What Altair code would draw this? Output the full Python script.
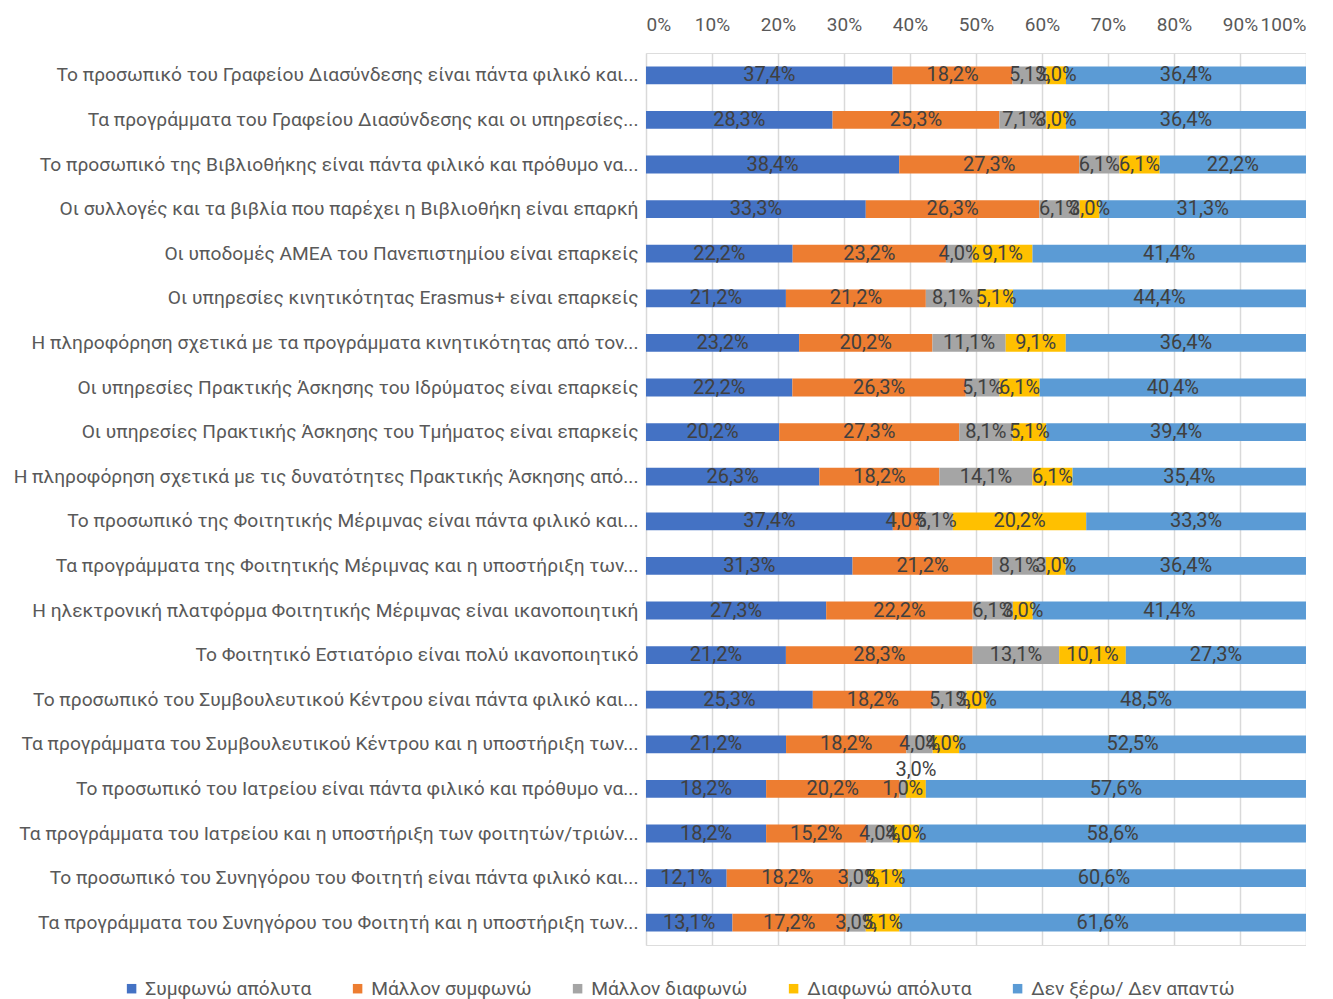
import altair as alt
import pandas as pd

categories = [
    "Το προσωπικό του Γραφείου Διασύνδεσης είναι πάντα φιλικό και...",
    "Τα προγράμματα του Γραφείου Διασύνδεσης και οι υπηρεσίες...",
    "Το προσωπικό της Βιβλιοθήκης είναι πάντα φιλικό και πρόθυμο να...",
    "Οι συλλογές και τα βιβλία που παρέχει η Βιβλιοθήκη είναι επαρκή",
    "Οι υποδομές ΑΜΕΑ του Πανεπιστημίου είναι επαρκείς",
    "Οι υπηρεσίες κινητικότητας Erasmus+ είναι επαρκείς",
    "Η πληροφόρηση σχετικά με τα προγράμματα κινητικότητας από τον...",
    "Οι υπηρεσίες Πρακτικής Άσκησης του Ιδρύματος είναι επαρκείς",
    "Οι υπηρεσίες Πρακτικής Άσκησης του Τμήματος  είναι επαρκείς",
    "Η πληροφόρηση σχετικά με τις δυνατότητες Πρακτικής Άσκησης από...",
    "Το προσωπικό της Φοιτητικής  Μέριμνας είναι πάντα φιλικό και...",
    "Τα προγράμματα της Φοιτητικής Μέριμνας και η υποστήριξη των...",
    "Η ηλεκτρονική πλατφόρμα Φοιτητικής Μέριμνας είναι ικανοποιητική",
    "Το Φοιτητικό Εστιατόριο είναι πολύ ικανοποιητικό",
    "Το προσωπικό του Συμβουλευτικού Κέντρου είναι πάντα φιλικό και...",
    "Τα προγράμματα του Συμβουλευτικού Κέντρου και η  υποστήριξη των...",
    "Το προσωπικό του Ιατρείου είναι πάντα φιλικό και πρόθυμο να...",
    "Τα προγράμματα του Ιατρείου και η υποστήριξη των φοιτητών/τριών...",
    "Το προσωπικό του Συνηγόρου του  Φοιτητή  είναι πάντα φιλικό και...",
    "Τα προγράμματα του Συνηγόρου του Φοιτητή  και η υποστήριξη των...",
]

series = ["Συμφωνώ απόλυτα", "Μάλλον συμφωνώ", "Μάλλον διαφωνώ",
          "Διαφωνώ απόλυτα", "Δεν ξέρω/ Δεν απαντώ"]
colors = ["#4472C4", "#ED7D31", "#A5A5A5", "#FFC000", "#5B9BD5"]

agree_full = [37.4, 28.3, 38.4, 33.3, 22.2, 21.2, 23.2, 22.2, 20.2, 26.3,
              37.4, 31.3, 27.3, 21.2, 25.3, 21.2, 18.2, 18.2, 12.1, 13.1]
agree_rather = [18.2, 25.3, 27.3, 26.3, 23.2, 21.2, 20.2, 26.3, 27.3, 18.2,
                4.0, 21.2, 22.2, 28.3, 18.2, 18.2, 20.2, 15.2, 18.2, 17.2]
disagree_rather = [5.1, 7.1, 6.1, 6.1, 4.0, 8.1, 11.1, 5.1, 8.1, 14.1,
                   5.1, 8.1, 6.1, 13.1, 5.1, 4.0, 1.0, 4.0, 3.0, 3.0]
disagree_full = [3.0, 3.0, 6.1, 3.0, 9.1, 5.1, 9.1, 6.1, 5.1, 6.1,
                 20.2, 3.0, 3.0, 10.1, 3.0, 4.0, 3.0, 4.0, 5.1, 5.1]
dont_know = [36.4, 36.4, 22.2, 31.3, 41.4, 44.4, 36.4, 40.4, 39.4, 35.4,
             33.3, 36.4, 41.4, 27.3, 48.5, 52.5, 57.6, 58.6, 60.6, 61.6]

values_by_series = [agree_full, agree_rather, disagree_rather, disagree_full, dont_know]

rows = []
for si, (s, vals) in enumerate(zip(series, values_by_series)):
    for c, v in zip(categories, vals):
        rows.append({"cat": c, "series": s, "order": si, "v": v})
df = pd.DataFrame(rows)

FONT = "Roboto"
TXT = "#595959"
raised_cat = categories[16]
raised_series = series[3]
is_raised = "(datum.series == '%s' && datum.cat == '%s')" % (raised_series, raised_cat)

base = alt.Chart(df).transform_stack(
    stack="v", groupby=["cat"], as_=["x0", "x1"], offset="normalize",
    sort=[alt.SortField("order", order="ascending")]
).transform_calculate(
    mid="(datum.x0 + datum.x1) / 2",
    label="replace(format(datum.v, '.1f'), '.', ',') + '%'",
)

y_scale = alt.Scale(paddingInner=0.6, paddingOuter=0.3)

bars = base.mark_bar().encode(
    x=alt.X("x0:Q", title=None,
            scale=alt.Scale(domain=[0, 1], nice=False),
            axis=alt.Axis(orient="top", values=[i / 10 for i in range(11)], format=".0%",
                          grid=True, gridColor="#D9D9D9", gridWidth=1.5,
                          domain=False, ticks=False, labelFontSize=19,
                          labelColor=TXT, labelFont=FONT, labelPadding=19)),
    x2="x1:Q",
    y=alt.Y("cat:N", sort=categories, title=None, scale=y_scale,
            axis=alt.Axis(labelFontSize=19.2, labelColor=TXT, labelFont=FONT,
                          ticks=False, domain=False, labelLimit=800, labelPadding=8)),
    color=alt.Color("series:N", scale=alt.Scale(domain=series, range=colors),
                    legend=alt.Legend(title=None, orient="none", direction="horizontal",
                                      legendX=-524, legendY=926,
                                      symbolType="square", symbolSize=90,
                                      symbolStrokeWidth=0, labelOffset=4,
                                      labelFontSize=19.2, labelColor=TXT, labelFont=FONT,
                                      columnPadding=36, labelLimit=400)),
    order=alt.Order("order:Q"),
)

labels = base.transform_filter("!" + is_raised).mark_text(
    fontSize=20, color="#404040", font=FONT
).encode(
    x=alt.X("mid:Q"),
    y=alt.Y("cat:N", sort=categories),
    text="label:N",
)

raised = base.transform_filter(is_raised).mark_text(
    fontSize=20, color="#404040", font=FONT, dy=-19
).encode(
    x=alt.X("mid:Q"),
    y=alt.Y("cat:N", sort=categories),
    text="label:N",
)

chart = alt.layer(bars, labels, raised).properties(
    width=660, height=892
).configure_view(stroke=None).configure(
    padding={"left": 5, "top": 7, "right": 0, "bottom": 0}
)

chart.save("out.html", embed_options={"renderer": "svg", "actions": False})
